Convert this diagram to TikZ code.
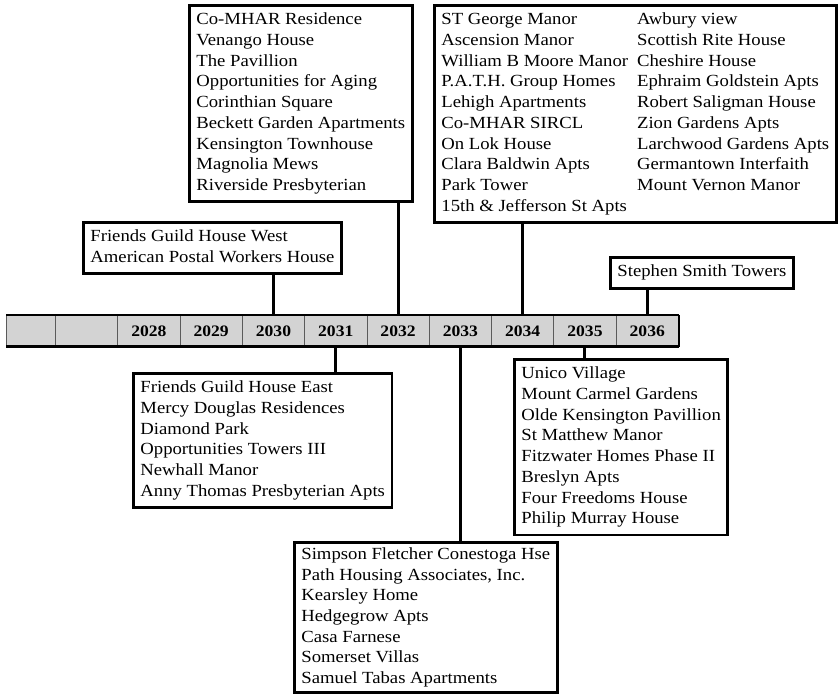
\documentclass[tikz,border=0pt]{standalone}
\usepackage{fontspec}
\setmainfont{Liberation Serif}[FakeStretch=1.1]
\usetikzlibrary{positioning}
\definecolor{barfill}{HTML}{D3D3D3}
\definecolor{celledge}{HTML}{5A5A5A}
\tikzset{
  listbox/.style={draw, line width=2.8pt, fill=white, anchor=north west,
    inner xsep=7pt, inner ysep=5pt, font=\fontsize{17}{20.7}\selectfont},
  yearcell/.style={draw=celledge, line width=0.8pt, fill=barfill, minimum width=62.3pt,
    minimum height=31pt, inner sep=0pt, anchor=north west, font=\bfseries\fontsize{16}{19}\selectfont},
  link/.style={line width=3pt}
}
\newcommand{\houses}[1]{\begin{tabular}{@{}l@{}}#1\end{tabular}}
\begin{document}
\begin{tikzpicture}[x=1pt, y=-1pt]
    \useasboundingbox (0,0) rectangle (839,694);
    % timeline bar
    \node[yearcell, minimum width=49pt] (blank) at (6,315) {};
    \foreach \yr [count=\i from 0] in {2027,...,2036} {
        \node[yearcell] (y\yr) at (55+62.3*\i,315) {\ifnum\yr=2027\else\yr\fi};
    }
    \draw[line width=2pt] (blank.north west) -- (y2036.north east);
    \draw[line width=3pt] (blank.south west) -- (y2036.south east);
    \draw[line width=1.6pt] (y2036.north east) -- (y2036.south east);

    % boxes above the bar
    \node[listbox] (b2030) at (82,221) {\houses{Friends Guild House West\\American Postal Workers House}};
    \node[listbox] (b2032) at (188,4) {\houses{Co-MHAR Residence\\Venango House\\The Pavillion\\Opportunities for Aging\\Corinthian Square\\Beckett Garden Apartments\\Kensington Townhouse\\Magnolia Mews\\Riverside Presbyterian}};
    \node[listbox] (b2034) at (433,4) {%
        \begin{tabular}{@{}l@{\hspace{9pt}}l@{}}
        ST George Manor & Awbury view\\
        Ascension Manor & Scottish Rite House\\
        William B Moore Manor & Cheshire House\\
        P.A.T.H. Group Homes & Ephraim Goldstein Apts\\
        Lehigh Apartments & Robert Saligman House\\
        Co-MHAR SIRCL & Zion Gardens Apts\\
        On Lok House & Larchwood Gardens Apts\\
        Clara Baldwin Apts & Germantown Interfaith\\
        Park Tower & Mount Vernon Manor\\
        15th \& Jefferson St Apts &
        \end{tabular}};
    \node[listbox] (b2036) at (609,256) {\houses{Stephen Smith Towers}};

    % boxes below the bar
    \node[listbox] (b2031) at (132,372) {\houses{Friends Guild House East\\Mercy Douglas Residences\\Diamond Park\\Opportunities Towers III\\Newhall Manor\\Anny Thomas Presbyterian Apts}};
    \node[listbox, inner ysep=2.5pt] (b2033) at (293,541) {\houses{Simpson Fletcher Conestoga Hse\\Path Housing Associates, Inc.\\Kearsley Home\\Hedgegrow Apts\\Casa Farnese\\Somerset Villas\\Samuel Tabas Apartments}};
    \node[listbox] (b2035) at (513,358) {\houses{Unico Village\\Mount Carmel Gardens\\Olde Kensington Pavillion\\St Matthew Manor\\Fitzwater Homes Phase II\\Breslyn Apts\\Four Freedoms House\\Philip Murray House}};

    % connectors
    \foreach \yr in {2030,2032,2034,2036} {
        \draw[link] (y\yr.north) -- (y\yr.north |- b\yr.south);
    }
    \foreach \yr in {2031,2033,2035} {
        \draw[link] (y\yr.south) -- (y\yr.south |- b\yr.north);
    }
\end{tikzpicture}
\end{document}
